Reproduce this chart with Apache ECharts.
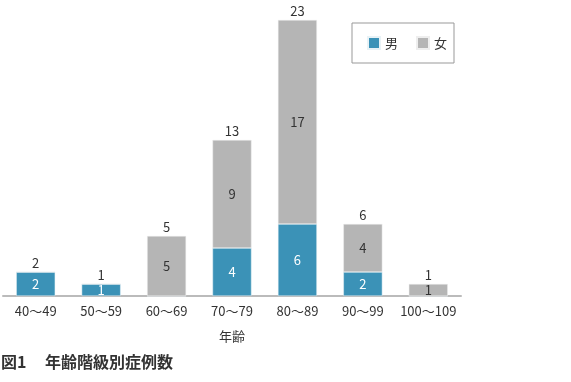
<!DOCTYPE html>
<html><head><meta charset="utf-8">
<script src="https://cdn.jsdelivr.net/npm/echarts@6/dist/echarts.min.js"></script>
<style>html,body{margin:0;padding:0;background:#fff}#c{width:571px;height:382px}</style>
</head><body><div id="c"></div>
<script>
const categories = ['40～49','50～59','60～69','70～79','80～89','90～99','100～109'];
const male = [2,1,0,4,6,2,0];
const female = [0,0,5,9,17,4,1];
const totals = male.map((v,i)=>v+female[i]);
const FONT = '"Noto Sans CJK JP", "Noto Sans", sans-serif';
const chart = echarts.init(document.getElementById('c'));
chart.setOption({
  animation:false,
  textStyle:{fontFamily:FONT},
  grid:{left:3,right:110,top:20,bottom:86,containLabel:false},
  legend:{
    left:352, top:23, orient:'horizontal',
    data:['男','女'],
    borderColor:'#999', borderWidth:1, borderRadius:0,
    padding:[13,7,13,15],
    itemWidth:12,itemHeight:12,itemGap:18,
    icon:'rect',
    textStyle:{fontSize:13,color:'#333',fontFamily:FONT}
  },
  xAxis:{
    type:'category', data:categories,
    name:'年齢', nameLocation:'middle', nameGap:34,
    nameTextStyle:{fontSize:13,color:'#333',fontFamily:FONT},
    axisLine:{lineStyle:{color:'#bbb',width:2}},
    axisTick:{show:false},
    axisLabel:{fontSize:13,color:'#333',margin:9,fontFamily:FONT,interval:0}
  },
  yAxis:{type:'value',min:0,max:23,show:false,splitLine:{show:false}},
  series:[
    {name:'男',type:'bar',stack:'a',data:male,barWidth:39,
     itemStyle:{color:'#3b92b7',borderColor:'#e8f2f6',borderWidth:0.5},
     label:{show:true,position:'inside',color:'#fff',fontSize:13,fontFamily:FONT,
       formatter:p=>p.value?String(p.value):''}},
    {name:'女',type:'bar',stack:'a',data:female,barWidth:39,
     itemStyle:{color:'#b5b5b5',borderColor:'#eee',borderWidth:0.5},
     label:{show:true,position:'inside',color:'#333',fontSize:13,fontFamily:FONT,
       formatter:p=>p.value?String(p.value):''}},
    {name:'計',type:'bar',stack:'a',data:totals.map(()=>0),barWidth:39,
     itemStyle:{color:'transparent'},
     label:{show:true,position:'top',distance:2,color:'#333',fontSize:13,fontFamily:FONT,
       formatter:p=>String(totals[p.dataIndex])}}
  ],
  graphic:[
    {type:'text',left:1,top:354,style:{text:'図1',font:'bold 16px '+FONT,fill:'#333'}},
    {type:'text',left:45,top:354,style:{text:'年齢階級別症例数',font:'bold 16px '+FONT,fill:'#333'}}
  ]
});
</script></body></html>
